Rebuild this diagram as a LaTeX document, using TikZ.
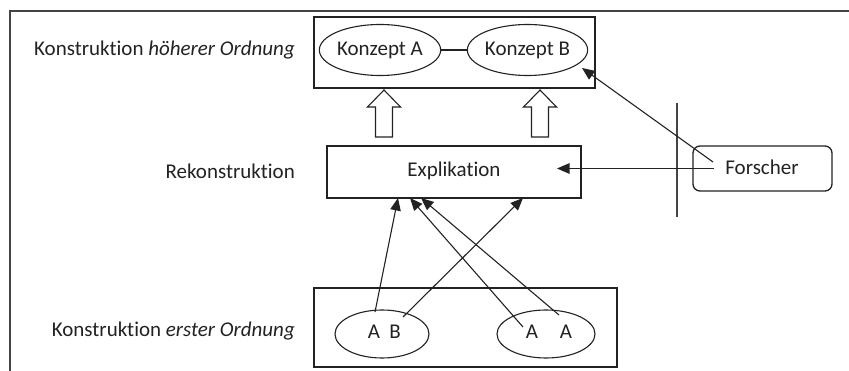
\documentclass[tikz,border=0pt]{standalone}
\usepackage{fontspec}
\setmainfont[RawFeature={-liga;-clig;-calt;-rlig;-dlig}]{Carlito}
\usetikzlibrary{arrows.meta,shapes.geometric,calc}
\definecolor{ink}{HTML}{222222}
\definecolor{frame}{HTML}{444444}
\newcommand{\nlg}{\kern0pt{}}
\tikzset{
  lbl/.style={anchor=east,inner sep=0pt,text=ink,font=\fontsize{21}{25}\selectfont},
  txt/.style={inner sep=0pt,text=ink,font=\fontsize{21}{25}\selectfont},
  boxr/.style={draw=ink,line width=1.3pt,rectangle,inner sep=0pt},
  ell/.style={draw=ink,line width=1.1pt,ellipse,inner sep=0pt,text=ink,font=\fontsize{21}{25}\selectfont},
  conn/.style={draw=ink,line width=1.1pt},
  arr/.style={conn,-{Triangle[length=12.5pt,width=10.5pt]}},
  hollow/.style={draw=ink,line width=1.1pt,fill=white,line join=miter},
  frameline/.style={draw=frame,line width=1.8pt}
}
\newcommand{\hollowarrow}[2]{%
  \draw[hollow] ($(#1)+(-8.5,0)$) -- ($(#2)+(-8.5,17)$) -- ($(#2)+(-16.5,17)$) -- (#2)
    -- ($(#2)+(16.5,17)$) -- ($(#2)+(8.5,17)$) -- ($(#1)+(8.5,0)$) -- cycle;}
\begin{document}
\begin{tikzpicture}[x=1pt,y=-1pt]
\useasboundingbox (0,0) rectangle (849,371);
% frame
\draw[frameline] (10,371) -- (10,11) -- (849,11);
% labels
\node[lbl] (l1) at (295,50) {Konstrukt\nlg ion \textit{höherer Ordnung}};
\node[lbl] (l2) at (295,171) {Rekonstrukt\nlg ion};
\node[lbl] (l3) at (295,331) {Konstrukt\nlg ion \textit{erster Ordnung}};
% top box
\node[boxr,minimum width=281pt,minimum height=71pt] (hbox) at (454.5,52.5) {};
\node[ell,minimum width=116pt,minimum height=51pt] (kA) at (380,50) {Konzept A};
\node[ell,minimum width=109pt,minimum height=51pt] (kB) at (527.5,50) {Konzept B};
\draw[conn,line width=1.2pt] (kA) -- (kB);
% explikation
\node[boxr,minimum width=254pt,minimum height=52pt] (expl) at (454,172) {};
\node[txt] (etxt) at (454,171) {Explikat\nlg ion};
% forscher
\node[draw=ink,line width=1.3pt,rounded corners=7pt,minimum width=139pt,minimum height=45pt,inner sep=0pt] (fbox) at (762.5,168.5) {};
\node[txt] (ftxt) at (762,167) {Forscher};
\draw[draw=frame,line width=1.4pt] (677,103) coordinate (vt) -- (677,217) coordinate (vb);
% hollow arrows
\coordinate (hb1) at (384,137); \coordinate (ht1) at (384,90);
\coordinate (hb2) at (540,137); \coordinate (ht2) at (540,90);
\hollowarrow{hb1}{ht1}
\hollowarrow{hb2}{ht2}
% bottom box
\node[boxr,minimum width=303pt,minimum height=79pt] (lbox) at (465.5,327.5) {};
\node[ell,minimum width=94pt,minimum height=48pt] (eAB) at (382,334) {};
\node[ell,minimum width=98pt,minimum height=48pt] (eAA) at (546,334) {};
\node[txt] (a1) at (374,332) {A};
\node[txt] (b1) at (395,332) {B};
\node[txt] (a2) at (532,332) {A};
\node[txt] (a3) at (566,332) {A};
% connector ends
\coordinate (sa1) at (375,312);
\coordinate (sb1) at (403,317);
\coordinate (sa2) at (523,327);
\coordinate (sa3) at (559,315);
\coordinate (t1) at (398,198);
\coordinate (t2) at (410,198);
\coordinate (t3) at (421,198);
\coordinate (t4) at (523,198);
\draw[arr] (sa1) -- (t1);
\draw[arr] (sb1) -- (t4);
\draw[arr] (sa2) -- (t2);
\draw[arr] (sa3) -- (t3);
% forscher arrows
\coordinate (fs1) at (714,168.5);
\coordinate (fs2) at (713,162);
\coordinate (et) at (557,168.5);
\coordinate (kt) at (582,68);
\draw[arr] (fs1) -- (et);
\draw[arr] (fs2) -- (kt);
\end{tikzpicture}
\end{document}
